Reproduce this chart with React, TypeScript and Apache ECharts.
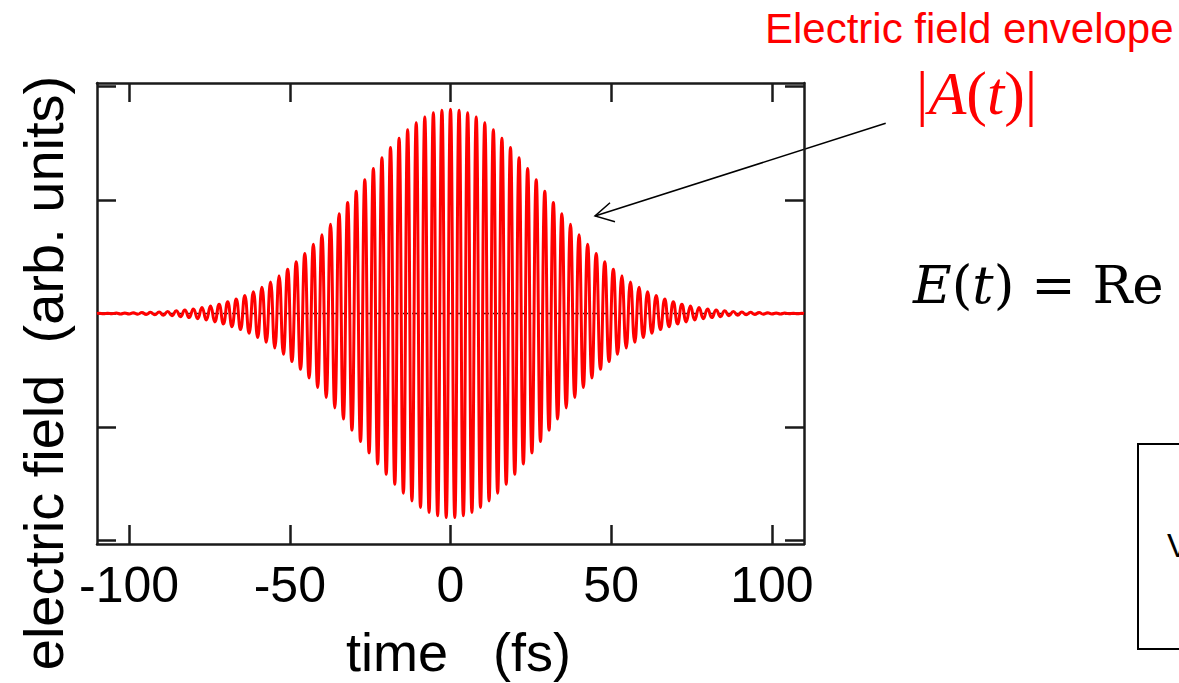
import React, { useEffect, useRef } from "react";
import * as echarts from "echarts";

// Carrier period read from the spacing of the crests (fs)
const carrierPeriodFs = 2.667;
// Crest heights at t = ±k·period (k = 0..41) (symmetric pulse)
const crestAmp = [
  0.9, 0.896, 0.885, 0.866, 0.841, 0.81, 0.773, 0.732, 0.687, 0.639, 0.59, 0.539, 0.489, 0.44,
  0.393, 0.347, 0.305, 0.265, 0.228, 0.195, 0.166, 0.139, 0.116, 0.096, 0.079, 0.064, 0.052,
  0.041, 0.033, 0.026, 0.02, 0.015, 0.012, 0.009, 0.007, 0.005, 0.004, 0.003, 0.002, 0.002,
  0.001, 0.001,
];
// Trough depths at t = ±(j+0.5)·period (j = 0..40)
const troughAmp = [
  0.899, 0.891, 0.877, 0.855, 0.826, 0.792, 0.753, 0.709, 0.663, 0.614, 0.564, 0.514, 0.465,
  0.416, 0.37, 0.326, 0.284, 0.246, 0.212, 0.18, 0.152, 0.127, 0.106, 0.087, 0.071, 0.058,
  0.046, 0.037, 0.029, 0.023, 0.018, 0.014, 0.01, 0.008, 0.006, 0.004, 0.003, 0.002, 0.002,
  0.001, 0.001,
];
const timeRange = [-110, 110];
const xTickValues = [-100, -50, 0, 50, 100];
const yTickValues = [-1, -0.5, 0, 0.5, 1];
const yRange = [-1.016, 1.016];

function buildField(): number[][] {
  const pts: number[][] = [];
  const nC = crestAmp.length - 1;
  for (let k = -nC; k <= nC; k++) pts.push([k * carrierPeriodFs, crestAmp[Math.abs(k)]]);
  const nT = troughAmp.length;
  for (let j = -nT; j < nT; j++) {
    const idx = j >= 0 ? j : -j - 1;
    pts.push([(j + 0.5) * carrierPeriodFs, -troughAmp[idx]]);
  }
  pts.sort((a, b) => a[0] - b[0]);
  pts.unshift([timeRange[0], 0]);
  pts.push([timeRange[1], 0]);
  return pts;
}

export default function App() {
  const ref = useRef<HTMLDivElement>(null);
  useEffect(() => {
    if (!ref.current) return;
    const chart = echarts.init(ref.current, undefined, { renderer: "svg" });
    const axisColor = "#1a1a1a";
    const tickCommon = {
      inside: true,
      length: 19,
      lineStyle: { color: axisColor, width: 2.5 },
    };
    const option: any = {
      animation: false,
      backgroundColor: "#ffffff",
      grid: { left: 97, top: 83, width: 707, height: 461, containLabel: false },
      xAxis: [
        {
          type: "value",
          position: "bottom",
          min: timeRange[0],
          max: timeRange[1],
          axisLine: { show: true, onZero: false, lineStyle: { color: axisColor, width: 2.5 } },
          axisTick: { ...tickCommon, customValues: xTickValues },
          axisLabel: {
            customValues: xTickValues,
            fontSize: 50,
            color: "#000",
            margin: 16,
            fontFamily: "Liberation Sans, Arial, sans-serif",
          },
          splitLine: { show: false },
        },
        {
          type: "value",
          position: "top",
          min: timeRange[0],
          max: timeRange[1],
          axisLine: { show: true, onZero: false, lineStyle: { color: axisColor, width: 2.5 } },
          axisTick: { ...tickCommon, customValues: xTickValues },
          axisLabel: { show: false },
          splitLine: { show: false },
        },
      ],
      yAxis: [
        {
          type: "value",
          position: "left",
          min: yRange[0],
          max: yRange[1],
          axisLine: { show: true, onZero: false, lineStyle: { color: axisColor, width: 2.5 } },
          axisTick: { ...tickCommon, customValues: yTickValues },
          axisLabel: { show: false },
          splitLine: { show: false },
        },
        {
          type: "value",
          position: "right",
          min: yRange[0],
          max: yRange[1],
          axisLine: { show: true, onZero: false, lineStyle: { color: axisColor, width: 2.5 } },
          axisTick: { ...tickCommon, customValues: yTickValues },
          axisLabel: { show: false },
          splitLine: { show: false },
        },
      ],
      series: [
        {
          type: "line",
          xAxisIndex: 0,
          yAxisIndex: 0,
          data: [
            [timeRange[0], 0],
            [timeRange[1], 0],
          ],
          showSymbol: false,
          silent: true,
          z: 1,
          lineStyle: { color: "#222", width: 1.5, type: [5, 4] },
        },
        {
          type: "line",
          xAxisIndex: 0,
          yAxisIndex: 0,
          data: buildField(),
          showSymbol: false,
          smooth: 0.5,
          clip: true,
          z: 2,
          lineStyle: { color: "#ff0000", width: 3 },
        },
      ],
      graphic: [
        {
          type: "text",
          x: 43,
          y: 373,
          rotation: Math.PI / 2,
          style: {
            text: "electric field  (arb. units)",
            fontSize: 56,
            fontFamily: "Liberation Sans, Arial, sans-serif",
            fill: "#000",
            align: "center",
            verticalAlign: "middle",
          },
        },
        {
          type: "text",
          x: 346,
          y: 625,
          style: {
            text: "time   (fs)",
            fontSize: 54,
            fontFamily: "Liberation Sans, Arial, sans-serif",
            fill: "#000",
            align: "left",
            verticalAlign: "top",
          },
        },
        {
          type: "text",
          x: 765,
          y: 7,
          style: {
            text: "Electric field envelope",
            fontSize: 42,
            fontFamily: "Liberation Sans, Arial, sans-serif",
            fill: "#ff0000",
            align: "left",
            verticalAlign: "top",
          },
        },
        {
          type: "text",
          x: 916,
          y: 62,
          style: {
            text: "{n||}{i|A}{n|(}{i|t}{n|)}{n||}",
            fontSize: 62,
            fontFamily: "Liberation Serif, Times New Roman, serif",
            fill: "#ff0000",
            align: "left",
            verticalAlign: "top",
            rich: {
              n: { fontSize: 62, fontFamily: "Liberation Serif, serif", fill: "#ff0000", lineHeight: 62 },
              i: {
                fontSize: 62,
                fontStyle: "italic",
                fontFamily: "Liberation Serif, serif",
                fill: "#ff0000",
                lineHeight: 62,
              },
            },
          },
        },
        {
          type: "text",
          x: 913,
          y: 258,
          style: {
            text: "{i|E}{n|(}{i|t}{n|) = Re}",
            fontSize: 53,
            fontFamily: "DejaVu Serif, serif",
            fill: "#000",
            align: "left",
            verticalAlign: "top",
            rich: {
              n: { fontSize: 53, fontFamily: "DejaVu Serif, serif", fill: "#000", lineHeight: 53 },
              i: {
                fontSize: 53,
                fontStyle: "italic",
                fontFamily: "DejaVu Serif, serif",
                fill: "#000",
                lineHeight: 53,
              },
            },
          },
        },
        {
          type: "line",
          shape: { x1: 885.7, y1: 123.3, x2: 595, y2: 216 },
          style: { stroke: "#000", lineWidth: 1.5 },
        },
        {
          type: "polyline",
          shape: {
            points: [
              [610, 202.7],
              [595, 216],
              [615, 221.7],
            ],
          },
          style: { stroke: "#000", lineWidth: 1.5, fill: "none" },
        },
        {
          type: "rect",
          shape: { x: 1138, y: 444, width: 100, height: 205 },
          style: { stroke: "#000", lineWidth: 2, fill: "none" },
        },
        {
          type: "text",
          x: 1167,
          y: 529,
          style: {
            text: "V",
            fontSize: 33,
            fontFamily: "Liberation Sans, Arial, sans-serif",
            fill: "#000",
            align: "left",
            verticalAlign: "top",
          },
        },
      ],
    };
    chart.setOption(option);
    return () => chart.dispose();
  }, []);
  return (
    <div
      ref={ref}
      style={{ position: "fixed", left: 0, top: 0, width: 1179, height: 683, background: "#fff" }}
    />
  );
}
